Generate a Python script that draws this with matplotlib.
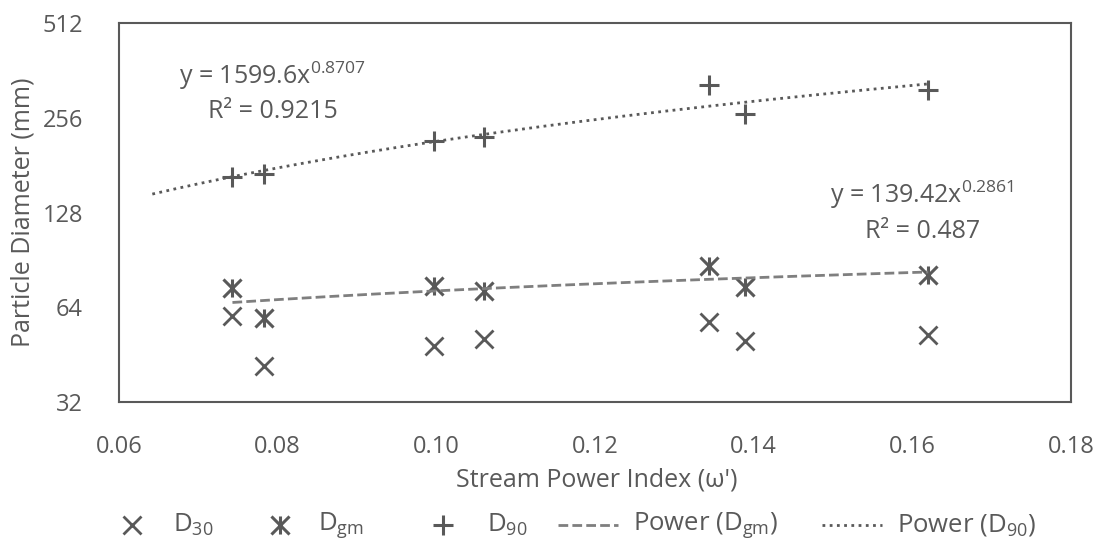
import numpy as np
import matplotlib
matplotlib.use("Agg")
import matplotlib.pyplot as plt
from matplotlib.path import Path
from matplotlib.lines import Line2D

plt.rcParams["font.family"] = ["Open Sans", "DejaVu Sans"]
plt.rcParams["mathtext.fontset"] = "custom"
plt.rcParams["mathtext.rm"] = "Open Sans"
plt.rcParams["mathtext.it"] = "Open Sans"
plt.rcParams["mathtext.default"] = "regular"

# Stream power index for each reach
stream_power = [0.0743, 0.0783, 0.0997, 0.1060, 0.1344, 0.1389, 0.1620]
# Grain size percentiles (mm)
d30 = [60.0, 41.7, 48.2, 50.7, 57.6, 49.9, 52.2]
dgm = [73.5, 59.0, 75.0, 72.1, 86.8, 74.1, 81.0]
d90 = [166.3, 169.6, 216.4, 222.9, 324.5, 262.5, 313.6]

# Power-law trendline coefficients: y = a * x^b, with R^2
dgm_fit = (139.42, 0.2861, 0.487)
d90_fit = (1599.6, 0.8707, 0.9215)
d90_fit_start = 0.0642  # backward forecast of the D90 trend

x_ticks = [0.06, 0.08, 0.10, 0.12, 0.14, 0.16, 0.18]
y_ticks = [32, 64, 128, 256, 512]

GREY = "#595959"
LINE_GREY = "#7f7f7f"
W, H = 1103, 546


def fx(px):
    return px / W


def fy(py):
    return 1 - py / H


# X marker with an extra vertical bar (star marker)
star = Path(
    [(-1, -1), (1, 1), (-1, 1), (1, -1), (0, -1), (0, 1)],
    [Path.MOVETO, Path.LINETO, Path.MOVETO, Path.LINETO, Path.MOVETO, Path.LINETO],
)

x_style = dict(linestyle="none", marker="x", ms=13, mew=2.0, color=GREY)
star_style = dict(linestyle="none", marker=star, ms=13, mew=2.2, color=GREY)
plus_style = dict(linestyle="none", marker="+", ms=15, mew=2.2, color=GREY)
dash_style = dict(linestyle=(0, (3.5, 1.5)), lw=2.0, color=LINE_GREY)
dot_style = dict(linestyle=(0, (1, 1.6)), lw=2.0, color=GREY)

fig = plt.figure(figsize=(W / 100, H / 100), dpi=100)
ax = fig.add_axes([fx(119), fy(402), fx(1071) - fx(119), fy(23) - fy(402)])

ax.plot(stream_power, d30, **x_style)
ax.plot(stream_power, dgm, **star_style)
ax.plot(stream_power, d90, **plus_style)

xs_gm = np.linspace(min(stream_power), max(stream_power), 200)
ax.plot(xs_gm, dgm_fit[0] * xs_gm ** dgm_fit[1], **dash_style)
xs_90 = np.linspace(d90_fit_start, max(stream_power), 200)
ax.plot(xs_90, d90_fit[0] * xs_90 ** d90_fit[1], **dot_style)

ax.set_yscale("log", base=2)
ax.set_xlim(0.06, 0.18)
ax.set_ylim(32, 512)
ax.set_xticks(x_ticks)
ax.set_xticklabels([f"{v:.2f}" for v in x_ticks])
ax.set_yticks(y_ticks)
ax.set_yticklabels([str(v) for v in y_ticks])
ax.yaxis.set_minor_locator(matplotlib.ticker.NullLocator())
ax.tick_params(length=0, labelsize=17, colors=GREY)
ax.tick_params(axis="y", pad=26)
ax.tick_params(axis="x", pad=24)
for s in ax.spines.values():
    s.set_color(GREY)
    s.set_linewidth(1.5)

fig.text(fx(597), fy(480), "Stream Power Index (\u03c9')", fontsize=18,
         color=GREY, ha="center", va="center")
fig.text(fx(23), fy(212), "Particle Diameter (mm)", fontsize=18, color=GREY,
         ha="center", va="center", rotation=90)

eq_kw = dict(fontsize=18, color=GREY, ha="center", va="center")
fig.text(fx(272), fy(76), f"y = {d90_fit[0]}x$^{{{d90_fit[1]}}}$", **eq_kw)
fig.text(fx(273), fy(112), f"R\u00b2 = {d90_fit[2]}", **eq_kw)
fig.text(fx(922), fy(195), f"y = {dgm_fit[0]}x$^{{{dgm_fit[1]}}}$", **eq_kw)
fig.text(fx(923), fy(232), f"R\u00b2 = {dgm_fit[2]}", **eq_kw)

# Legend row along the bottom
leg_y = fy(525)
legend_items = [
    (x_style, 132, None, 173, "D$_{30}$"),
    (star_style, 280, None, 318, "D$_{gm}$"),
    (plus_style, 443, None, 487, "D$_{90}$"),
    (dash_style, 558, 618, 633, "Power (D$_{gm}$)"),
    (dot_style, 822, 882, 897, "Power (D$_{90}$)"),
]
for style, x0, x1, tx, label in legend_items:
    if x1 is None:
        fig.add_artist(Line2D([fx(x0)], [leg_y], transform=fig.transFigure, **style))
    else:
        fig.add_artist(Line2D([fx(x0), fx(x1)], [leg_y, leg_y],
                              transform=fig.transFigure, **style))
    fig.text(fx(tx), leg_y, label, fontsize=18.5, color=GREY, ha="left", va="center")

fig.savefig("out.png", dpi=100)
